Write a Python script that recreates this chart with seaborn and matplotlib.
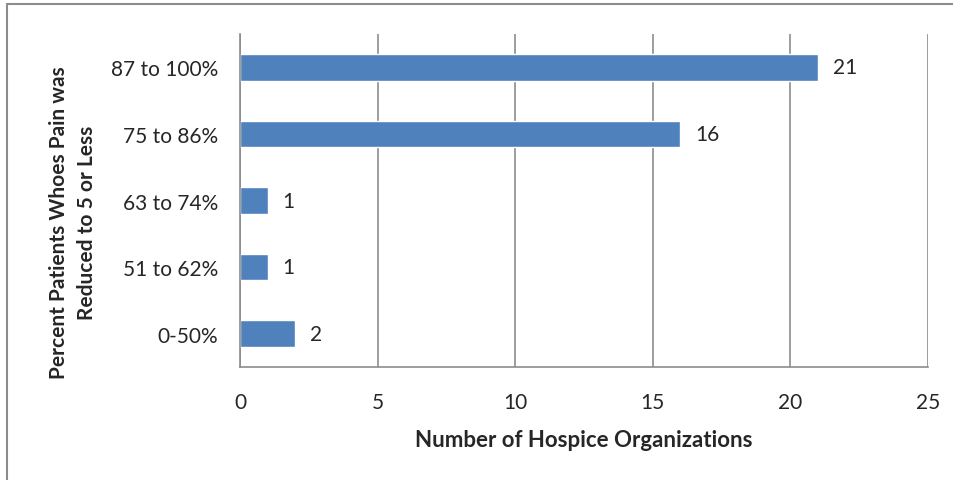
import matplotlib
matplotlib.use('Agg')
import matplotlib.pyplot as plt
import seaborn as sns
import pandas as pd
from matplotlib.lines import Line2D

# Data
categories = ['87 to 100%', '75 to 86%', '63 to 74%', '51 to 62%', '0-50%']
counts = [21, 16, 1, 1, 2]
x_ticks = [0, 5, 10, 15, 20, 25]

df = pd.DataFrame({'range': categories, 'count': counts})

sns.set_style('white')
plt.rcParams['font.family'] = ['Lato', 'DejaVu Sans']

fig = plt.figure(figsize=(9.54, 4.81), dpi=100)
ax = fig.add_axes([240 / 954, 1 - 368 / 481, (928 - 240) / 954, (368 - 35) / 481])

sns.barplot(data=df, x='count', y='range', order=categories, color='#4F81BD',
            saturation=1, width=0.4, orient='h', ax=ax)

ax.set_xlim(0, 25)
ax.set_ylim(len(categories) - 0.5, -0.5)
ax.set_xticks(x_ticks)
ax.xaxis.grid(True, color='#8C8C8C', linewidth=1.2)
ax.set_axisbelow(True)

for s in ['top', 'right']:
    ax.spines[s].set_visible(False)
for s in ['left', 'bottom']:
    ax.spines[s].set_color('#8C8C8C')
    ax.spines[s].set_linewidth(1.2)

# category ticks sit between bars
ax.set_yticks([i - 0.5 for i in range(len(categories) + 1)], minor=True)
ax.tick_params(axis='y', which='minor', length=8, color='#8C8C8C', width=1.2)
ax.tick_params(axis='y', which='major', length=0, pad=16, labelsize=15)
ax.tick_params(axis='x', length=7, color='#8C8C8C', width=1.2, pad=11, labelsize=15)

for i, v in enumerate(counts):
    ax.text(v + 0.55, i, str(v), va='center', ha='left', fontsize=15)

ax.set_xlabel('Number of Hospice Organizations', fontsize=16, fontweight='bold', labelpad=12)
ax.set_ylabel('')
fig.text(73 / 954, 1 - 223 / 481, 'Percent Patients Whoes Pain was\nReduced to 5 or Less',
         rotation=90, ha='center', va='center', fontsize=15, fontweight='bold',
         linespacing=1.5, multialignment='center')

# outer chart frame (partly cut off)
fig.add_artist(Line2D([7 / 954, 1], [1 - 5 / 481, 1 - 5 / 481], color='#8C8C8C', linewidth=1.5))
fig.add_artist(Line2D([7 / 954, 7 / 954], [0, 1 - 5 / 481], color='#8C8C8C', linewidth=1.5))

fig.savefig('out.png', dpi=100)
